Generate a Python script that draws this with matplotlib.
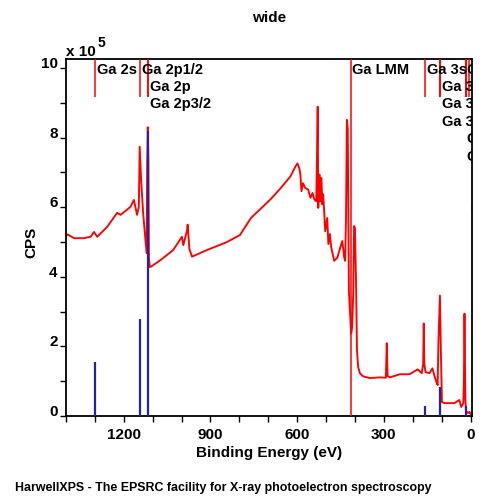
import matplotlib
matplotlib.use("Agg")
import matplotlib.pyplot as plt
import matplotlib.transforms as mtransforms
from matplotlib.ticker import MultipleLocator, FixedLocator

plt.rcParams['font.family'] = ['Liberation Sans', 'DejaVu Sans']
plt.rcParams['font.weight'] = 'bold'

# ---- data (binding energy in eV, intensity in units of 1e5 CPS) ----
be_ev = [1398, 1395, 1372, 1339, 1315, 1303, 1292, 1257, 1223, 1211,
         1177, 1165, 1154, 1148, 1145, 1140, 1133, 1128, 1121, 1119,
         1117, 1115, 1113, 1110, 1104, 1070, 1029, 999, 994, 981,
         979, 973, 964, 912, 843, 798, 760, 692, 658, 623,
         606, 599, 592, 589, 585, 580, 572, 562, 554, 547,
         541, 534, 531, 529, 527, 523, 520, 516, 513, 510,
         506, 503, 496, 492, 487, 482, 472, 461, 451, 444,
         437, 434, 431, 428, 425, 421, 417, 413, 410, 406,
         403, 400, 396, 393, 389, 383, 372, 348, 314, 293,
         290, 287, 279, 245, 211, 183, 169, 164, 162, 160,
         156, 142, 132, 125, 119, 114, 111, 106, 103, 99,
         90, 56, 39, 32, 25, 23, 21, 18, 16, 11,
         6, 4, 2, 0, -5]
cps_e5 = [5.20, 5.22, 5.11, 5.11, 5.15, 5.29, 5.15, 5.44, 5.84, 5.78,
          6.01, 6.21, 5.78, 6.01, 7.74, 6.78, 5.83, 5.34, 4.68, 7.30,
          8.30, 7.40, 4.54, 4.28, 4.30, 4.50, 4.77, 5.15, 4.91, 5.34,
          5.50, 4.80, 4.58, 4.77, 5.00, 5.20, 5.69, 6.23, 6.54, 6.89,
          7.17, 7.26, 7.10, 6.94, 6.46, 6.69, 6.55, 6.51, 6.27, 6.41,
          6.23, 6.17, 7.69, 8.89, 5.98, 6.94, 6.17, 6.84, 6.08, 6.37,
          5.80, 5.31, 5.69, 4.94, 5.23, 4.84, 4.46, 4.55, 4.84, 5.03,
          4.55, 4.46, 5.69, 8.51, 8.27, 3.60, 2.94, 2.37, 2.54, 3.51,
          5.46, 5.40, 3.69, 1.89, 1.41, 1.23, 1.14, 1.09, 1.11, 1.10,
          2.09, 1.15, 1.11, 1.20, 1.20, 1.34, 1.23, 1.50, 2.66, 1.50,
          1.26, 1.23, 1.37, 1.15, 1.00, 0.89, 2.17, 3.46, 1.97, 0.40,
          0.37, 0.37, 0.46, 0.26, 0.37, 1.00, 2.94, 0.50, 0.17, 0.09,
          0.10, 0.12, 0.10, 0.05, 0.05]

# reference (blue) peak lines
ref_ev = [1298, 1143, 1116, 156, 105, 16]
ref_e5 = [1.54, 2.80, 8.20, 0.30, 0.84, 0.29]

# peak identification labels
peak_names = ["Ga 2s", "Ga 2p1/2", "Ga 2p", "Ga 2p3/2", "Ga LMM", "Ga 3s",
              "Ga 3p", "Ga 3p3/2", "Ga 3p1/2", "Ga 3d", "Ga 3d5/2", "Ga 3d3/2", "O 2s"]
peak_ev = [1298, 1143, 1116, 1116, 415, 156, 105, 105, 105, 16, 16, 16, 4.5]
peak_row = [0, 0, 1, 2, 0, 0, 1, 2, 3, 0, 4, 5, 8]
full_marker = ["Ga LMM"]

x_major = [1200, 900, 600, 300, 0]

fig = plt.figure(figsize=(5, 5), dpi=100)
ax = fig.add_axes([0.132, 0.168, 0.812, 0.714])

ax.plot(be_ev, cps_e5, color='#ff0000', lw=1.35, zorder=2)
ax.vlines(ref_ev, 0, ref_e5, color='#2323a6', lw=1.6, zorder=3)

ymax = 10.26
for name, ev in zip(peak_names, peak_ev):
    lo = 0 if name in full_marker else 9.17
    ax.vlines(ev, lo, ymax, color='#ff0000', lw=1.1, zorder=4)

offs = mtransforms.offset_copy(ax.transData, fig=fig, x=1.5, y=0, units='dots')
for name, ev, r in zip(peak_names, peak_ev, peak_row):
    ax.text(ev, 10.0 - 0.5 * r, name, transform=offs, ha='left', va='center_baseline',
            fontsize=10.5, fontweight='bold', color='black', clip_on=True, zorder=5)

ax.set_xlim(1400, -5)
ax.set_ylim(0, ymax)
ax.xaxis.set_major_locator(FixedLocator(x_major))
ax.xaxis.set_minor_locator(MultipleLocator(100))
ax.yaxis.set_major_locator(MultipleLocator(2))
ax.yaxis.set_minor_locator(MultipleLocator(1))
ax.tick_params(axis='both', which='both', direction='out', length=4.5, width=1.0,
               labelsize=11)
ax.tick_params(axis='x', which='major', pad=4)
ax.tick_params(axis='y', which='major', pad=1.5)
ax.set_xticklabels([str(v) for v in x_major])
ax.set_yticks([0, 2, 4, 6, 8, 10])
ax.set_yticklabels(['0', '2', '4', '6', '8', '10'])
for lbl in ax.get_yticklabels():
    lbl.set_va('baseline')
for s in ax.spines.values():
    s.set_linewidth(1.3)

fig.text(0.538, 0.964, "wide", ha='center', va='center', fontsize=11, fontweight='bold')
fig.text(0.133, 0.895, "x 10", ha='left', va='center', fontsize=11, fontweight='bold')
fig.text(0.195, 0.914, "5", ha='left', va='center', fontsize=10, fontweight='bold')
fig.text(0.062, 0.516, "CPS", ha='center', va='center', rotation=90, fontsize=11,
         fontweight='bold')
fig.text(0.538, 0.094, "Binding Energy (eV)", ha='center', va='center', fontsize=11,
         fontweight='bold')
fig.text(0.03, 0.024, "HarwellXPS - The EPSRC facility for X-ray photoelectron spectroscopy",
         ha='left', va='center', fontsize=8.9, fontweight='bold')

fig.savefig("out.png", dpi=100, facecolor='white')
